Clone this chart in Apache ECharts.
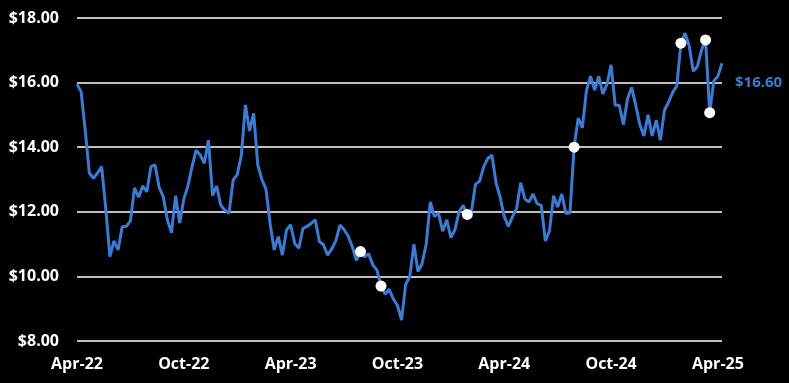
<!DOCTYPE html>
<html>
<head>
<meta charset="utf-8">
<script src="https://cdn.jsdelivr.net/npm/echarts@6/dist/echarts.min.js"></script>
<style>
  html, body { margin: 0; padding: 0; background: #000; }
  #chart { width: 789px; height: 383px; }
</style>
</head>
<body>
<div id="chart"></div>
<script>
// Weekly closing prices, Apr-2022 .. Apr-2025
var prices = [
  15.95, 15.72, 14.53, 13.2, 13.04, 13.2, 13.4, 12.1, 10.61, 11.1,
  10.82, 11.54, 11.55, 11.72, 12.74, 12.45, 12.8, 12.62, 13.4, 13.45,
  12.75, 12.47, 11.75, 11.35, 12.5, 11.65, 12.4, 12.8, 13.4, 13.91,
  13.76, 13.5, 14.22, 12.5, 12.8, 12.2, 12.05, 11.95, 12.98, 13.15,
  13.75, 15.31, 14.5, 15.05, 13.45, 13.0, 12.7, 11.64, 10.82, 11.23,
  10.66, 11.44, 11.6, 11.02, 10.87, 11.49, 11.55, 11.64, 11.75, 11.08,
  10.98, 10.66, 10.85, 11.1, 11.59, 11.45, 11.25, 10.92, 10.5, 10.77,
  10.61, 10.7, 10.35, 10.2, 9.7, 9.45, 9.6, 9.3, 9.1, 8.65,
  9.75, 9.99, 11.0, 10.15, 10.4, 11.0, 12.31, 11.85, 11.95, 11.4,
  11.75, 11.2, 11.45, 12.0, 12.2, 11.92, 12.0, 12.85, 12.95, 13.4,
  13.65, 13.75, 12.9, 12.45, 11.85, 11.55, 11.85, 12.1, 12.9, 12.4,
  12.3, 12.55, 12.25, 12.2, 11.1, 11.4, 12.5, 12.15, 12.55, 11.95,
  11.97, 14.0, 14.9, 14.6, 15.75, 16.2, 15.77, 16.2, 15.65, 15.95,
  16.55, 15.3, 15.3, 14.7, 15.5, 15.85, 15.3, 14.7, 14.35, 15.0,
  14.35, 14.84, 14.22, 15.15, 15.4, 15.7, 15.9, 17.22, 17.53, 17.15,
  16.35, 16.5, 17.0, 17.32, 15.07, 16.05, 16.2, 16.6
];
// Weeks at which white dots are drawn
var markerWeeks = [69, 74, 95, 121, 147, 153, 154];
// Half-year tick labels (every 26 weeks)
var tickLabels = ['Apr-22', 'Oct-22', 'Apr-23', 'Oct-23', 'Apr-24', 'Oct-24', 'Apr-25'];
var yTicks = { min: 8, max: 18, interval: 2 };

var lineData = prices.map(function (v, i) { return [i, v]; });
var markerData = markerWeeks.map(function (w) { return [w, prices[w]]; });

var FONT = '"Open Sans", "Liberation Sans", sans-serif';
var BLUE = '#3b7bd4';

var chart = echarts.init(document.getElementById('chart'), null, { renderer: 'canvas' });
chart.setOption({
  animation: false,
  backgroundColor: '#000000',
  grid: { left: 77, right: 67, top: 18, bottom: 42, containLabel: false },
  xAxis: {
    type: 'value',
    min: 0,
    max: prices.length - 1,
    interval: 26,
    axisLine: { show: false },
    axisTick: { show: false },
    splitLine: { show: false },
    axisLabel: {
      color: '#ffffff',
      fontFamily: FONT,
      fontWeight: 'bold',
      fontSize: 16,
      margin: 15,
      showMaxLabel: false,
      formatter: function (v) {
        var i = Math.round(v / 26);
        return (v % 26 === 0 && tickLabels[i]) ? tickLabels[i] : '';
      }
    }
  },
  yAxis: {
    type: 'value',
    min: yTicks.min,
    max: yTicks.max,
    interval: yTicks.interval,
    axisLine: { show: false },
    axisTick: { show: false },
    splitLine: { show: true, lineStyle: { color: '#ffffff', width: 1.6 } },
    axisLabel: {
      color: '#ffffff',
      fontFamily: FONT,
      fontWeight: 'bold',
      fontSize: 16,
      margin: 18,
      formatter: function (v) { return '$' + v.toFixed(2); }
    }
  },
  series: [
    {
      type: 'line',
      data: lineData,
      showSymbol: false,
      symbol: 'none',
      lineStyle: { color: BLUE, width: 3 },
      z: 2,
      endLabel: {
        show: true,
        distance: 13,
        offset: [0, 20],
        color: BLUE,
        fontFamily: FONT,
        fontWeight: 'bold',
        fontSize: 15,
        formatter: function (p) { return '$' + p.value[1].toFixed(2); }
      }
    },
    {
      type: 'scatter',
      data: markerData,
      symbol: 'circle',
      symbolSize: 11,
      itemStyle: { color: '#ffffff', opacity: 1 },
      z: 5
    }
  ]
});
</script>
</body>
</html>
